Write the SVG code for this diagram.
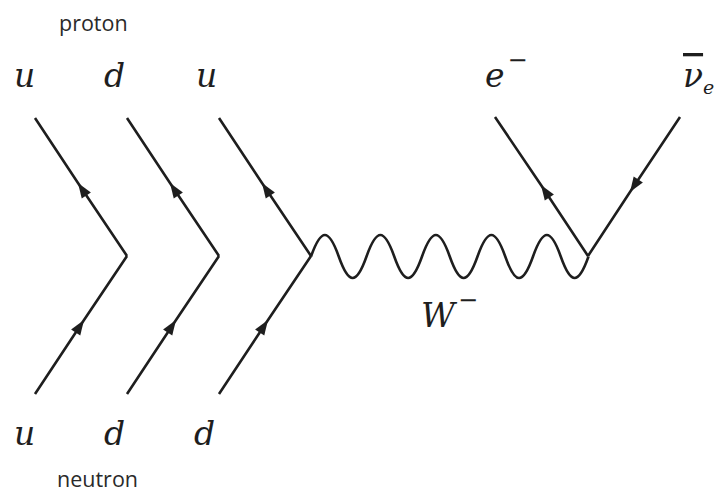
<svg xmlns="http://www.w3.org/2000/svg" width="718" height="493" viewBox="0 0 718 493">
<style>
.bg{fill:#fff}
.f{fill:none;stroke:#1e1e1e;stroke-width:2.6;stroke-linejoin:miter;stroke-linecap:butt}
.fa{marker-mid:url(#arr)}
.w{fill:none;stroke:#1e1e1e;stroke-width:2.6}
.m{font-family:"DejaVu Serif",serif;font-style:italic;font-size:33px;fill:#1e1e1e}
.s{font-family:"Open Sans","DejaVu Sans",sans-serif;font-size:21.5px;fill:#2a2a2a}
.sup{font-family:"DejaVu Sans",sans-serif;font-style:normal;font-size:24px}
</style>
<defs>
<marker id="arr" markerUnits="userSpaceOnUse" markerWidth="20" markerHeight="16" viewBox="-16 -8 20 16" refX="0" refY="0" orient="auto">
<path d="M0,0 L-15,-5.5 L-15,5.5 Z" fill="#1e1e1e"/>
</marker>
</defs>
<rect class="bg" x="0" y="0" width="718" height="493"/>
<g id="connectors">
<path class="f fa" d="M127,256 L78,183 L35,118"/>
<path class="f fa" d="M35,394 L84,320 L127,256"/>
<path class="f fa" d="M219,256 L170,183 L127,118"/>
<path class="f fa" d="M127,394 L176,320 L219,256"/>
<path class="f fa" d="M311,256 L262,183 L219,118"/>
<path class="f fa" d="M219,394 L268,320 L311,256"/>
<path class="f fa" d="M588,256 L541,185 L495,117"/>
<path class="f fa" d="M680,117 L630,192 L588,256"/>
<path class="w" d="M311,256.5 c10.1,-28.67 17.65,-28.67 27.75,0 s17.65,28.67 27.75,0 s17.65,-28.67 27.75,0 s17.65,28.67 27.75,0 s17.65,-28.67 27.75,0 s17.65,28.67 27.75,0 s17.65,-28.67 27.75,0 s17.65,28.67 27.75,0 s17.65,-28.67 27.75,0 s17.65,28.67 27.75,0"/>
</g>
<g id="proton"><text class="s" x="59" y="31">proton</text></g>
<g id="neutron"><text class="s" x="57" y="487">neutron</text></g>
<g id="u-top"><text class="m" x="14" y="87">u</text></g>
<g id="d-top"><text class="m" x="104" y="87">d</text></g>
<g id="u-top2"><text class="m" x="196" y="87">u</text></g>
<g id="u-bottom"><text class="m" x="14" y="445">u</text></g>
<g id="d-bottom"><text class="m" x="104" y="445">d</text></g>
<g id="d-bottom2"><text class="m" x="194" y="445">d</text></g>
<g id="electron"><text class="m" x="485" y="87">e<tspan class="sup" dy="-19" dx="3">−</tspan></text></g>
<g id="antineutrino"><text class="m" x="683" y="87"><tspan text-decoration="overline">ν</tspan><tspan font-size="19" dy="7">e</tspan></text></g>
<g id="W"><text class="m" x="421" y="327">W<tspan class="sup" dy="-19" dx="3">−</tspan></text></g>
</svg>
